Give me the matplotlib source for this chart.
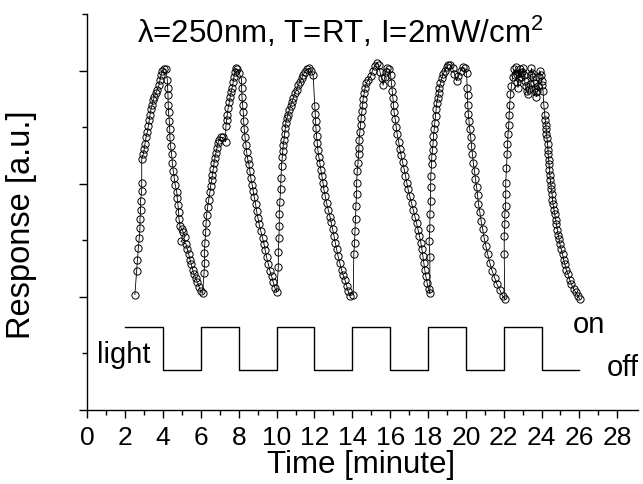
import numpy as np
import matplotlib
matplotlib.use("Agg")
import matplotlib.pyplot as plt

plt.rcParams['font.family'] = ['Liberation Sans', 'DejaVu Sans']
plt.rcParams['mathtext.fontset'] = 'custom'
plt.rcParams['mathtext.rm'] = 'Liberation Sans'
plt.rcParams['mathtext.default'] = 'regular'

# ---------------------------------------------------
# Data (time in minutes, response in a.u.)
# ---------------------------------------------------
c1_t = [2.51, 2.60, 2.64, 2.69, 2.74, 2.78, 2.78, 2.81, 2.81, 2.87, 2.87,
        2.87, 2.95, 3.01, 3.04, 3.10, 3.17, 3.22, 3.27, 3.31, 3.36, 3.43, 3.48, 3.54, 3.61, 3.69, 3.78, 3.84, 3.89, 3.96, 4.05, 4.15,
        4.22, 4.24, 4.26, 4.27, 4.29, 4.33, 4.35, 4.36, 4.40, 4.45, 4.49, 4.54, 4.59, 4.64, 4.72, 4.75, 4.79, 4.82, 4.84, 4.89,
        4.98, 5.07, 5.16, 4.94, 5.21, 5.28, 5.35, 5.42, 5.49, 5.56, 5.63, 5.72, 5.81, 5.90, 5.98, 6.09]
c1_r = [1.02, 1.23, 1.33, 1.43, 1.52, 1.61, 1.69, 1.77, 1.85, 1.94, 2.01,
        2.22, 2.26, 2.31, 2.35, 2.41, 2.46, 2.51, 2.56, 2.61, 2.66, 2.70, 2.74, 2.77, 2.80, 2.83, 2.87, 2.92, 2.96, 3.00, 3.01, 3.01,
        2.92, 2.85, 2.78, 2.70, 2.63, 2.55, 2.48, 2.41, 2.33, 2.26, 2.18, 2.11, 2.05, 1.99, 1.93, 1.87, 1.81, 1.75, 1.69, 1.63,
        1.60, 1.57, 1.53, 1.49, 1.47, 1.42, 1.38, 1.33, 1.29, 1.24, 1.20, 1.17, 1.13, 1.09, 1.05, 1.03]

c2_t = [6.16, 6.20, 6.18, 6.21, 6.25, 6.27, 6.30, 6.35, 6.41, 6.48, 6.51, 6.57, 6.60, 6.65, 6.69, 6.74, 6.79, 6.85, 6.90, 6.97, 7.06, 7.18, 7.30,
        7.32, 7.36, 7.39, 7.44, 7.50, 7.55, 7.60, 7.65, 7.71, 7.74, 7.80, 7.85, 7.89, 8.02, 8.15,
        8.15, 8.17, 8.20, 8.24, 8.26, 8.29, 8.33, 8.38, 8.41, 8.47, 8.54, 8.59, 8.64, 8.71, 8.76, 8.82, 8.89, 8.94, 9.01, 9.08,
        9.17, 9.26, 9.33, 9.40, 9.47, 9.56, 9.65, 9.74, 9.82, 9.91, 10.00]
c2_r = [1.21, 1.30, 1.39, 1.48, 1.57, 1.65, 1.72, 1.79, 1.86, 1.93, 1.98, 2.03, 2.08, 2.13, 2.18, 2.23, 2.27, 2.32, 2.36, 2.39, 2.41, 2.41, 2.37,
        2.51, 2.56, 2.61, 2.67, 2.72, 2.77, 2.81, 2.85, 2.90, 2.94, 2.99, 3.02, 3.01, 2.98, 2.92,
        2.85, 2.77, 2.70, 2.63, 2.55, 2.48, 2.41, 2.34, 2.28, 2.22, 2.17, 2.11, 2.05, 1.99, 1.94, 1.88, 1.82, 1.76, 1.70, 1.64,
        1.58, 1.52, 1.47, 1.41, 1.35, 1.29, 1.23, 1.18, 1.13, 1.08, 1.04]

c3_t = [10.09, 10.09, 10.12, 10.14, 10.14, 10.17, 10.21, 10.23, 10.26, 10.30, 10.32, 10.35, 10.39, 10.42, 10.46, 10.49,
        10.54, 10.60, 10.67, 10.74, 10.81, 10.88, 10.97, 11.06, 11.14, 11.23, 11.32, 11.41, 11.49, 11.58, 11.69, 11.80, 11.93,
        12.02, 12.04, 12.06, 12.08, 12.11, 12.15, 12.18, 12.23, 12.29, 12.34, 12.39, 12.45, 12.50, 12.57, 12.64, 12.73,
        12.82, 12.88, 12.96, 13.03, 13.10, 13.17, 13.25, 13.34, 13.43, 13.52, 13.61, 13.70, 13.78, 13.87]
c3_r = [1.26, 1.40, 1.52, 1.63, 1.73, 1.84, 1.95, 2.05, 2.16, 2.24, 2.29, 2.34, 2.39, 2.44, 2.49, 2.54,
        2.58, 2.61, 2.65, 2.69, 2.72, 2.76, 2.80, 2.83, 2.87, 2.90, 2.93, 2.96, 2.99, 3.01, 3.02, 3.00, 2.96,
        2.69, 2.62, 2.55, 2.49, 2.42, 2.36, 2.30, 2.24, 2.18, 2.12, 2.07, 2.01, 1.95, 1.89, 1.83, 1.77,
        1.71, 1.66, 1.60, 1.54, 1.48, 1.42, 1.36, 1.30, 1.24, 1.19, 1.15, 1.10, 1.05, 1.01]

c4_t = [14.05, 14.08, 14.12, 14.14, 14.17, 14.19, 14.23, 14.23, 14.26, 14.30, 14.33, 14.35, 14.36, 14.40, 14.44, 14.47,
        14.51, 14.54, 14.57, 14.63, 14.68, 14.75, 14.84, 14.97, 15.07, 15.18, 15.28, 15.39, 15.46, 15.55, 15.63, 15.71,
        15.77, 15.86, 15.95, 16.02, 16.07,
        16.11, 16.14, 16.18, 16.21, 16.27, 16.32, 16.37, 16.45, 16.51, 16.58, 16.66, 16.74, 16.81, 16.88, 16.95, 17.04,
        17.13, 17.22, 17.31, 17.40, 17.48, 17.55, 17.62, 17.68, 17.73, 17.78, 17.83, 17.89, 17.96, 18.03, 18.10]
c4_r = [1.02, 1.38, 1.48, 1.58, 1.69, 1.80, 1.91, 2.01, 2.11, 2.18, 2.26, 2.32, 2.39, 2.46, 2.52, 2.58,
        2.64, 2.70, 2.75, 2.80, 2.85, 2.89, 2.92, 2.95, 3.00, 3.04, 3.07, 3.05, 2.99, 2.93, 2.87, 2.94,
        2.99, 3.02, 3.01, 2.96, 2.89,
        2.82, 2.76, 2.70, 2.63, 2.57, 2.50, 2.44, 2.37, 2.31, 2.25, 2.19, 2.13, 2.07, 2.01, 1.95, 1.89,
        1.83, 1.77, 1.71, 1.65, 1.59, 1.54, 1.48, 1.42, 1.36, 1.30, 1.24, 1.18, 1.12, 1.07, 1.03]

c5_t = [18.10, 18.06, 18.10, 18.10, 18.14, 18.14, 18.15, 18.19, 18.20, 18.24, 18.27, 18.29, 18.33, 18.36, 18.40, 18.43,
        18.46, 18.52, 18.56, 18.60, 18.66, 18.73, 18.80, 18.89, 18.98, 19.08, 19.19, 19.30, 19.40, 19.51, 19.61, 19.72,
        19.83, 19.95, 20.04,
        20.07, 20.09, 20.10, 20.13, 20.17, 20.21, 20.26, 20.30, 20.35, 20.40, 20.46, 20.51, 20.57, 20.62, 20.67, 20.74,
        20.81, 20.89, 20.97, 21.06, 21.15, 21.27, 21.39, 21.52, 21.65, 21.80, 21.94]
c5_r = [1.35, 1.49, 1.61, 1.73, 1.85, 1.97, 2.07, 2.17, 2.24, 2.30, 2.36, 2.42, 2.48, 2.54, 2.60, 2.66,
        2.71, 2.76, 2.80, 2.85, 2.89, 2.93, 2.97, 3.00, 3.03, 3.05, 3.05, 3.02, 2.97, 2.91, 2.95, 3.00,
        3.03, 3.02, 2.98,
        2.85, 2.78, 2.70, 2.62, 2.55, 2.48, 2.41, 2.33, 2.26, 2.18, 2.11, 2.04, 1.97, 1.90, 1.82, 1.75,
        1.67, 1.60, 1.52, 1.45, 1.38, 1.30, 1.23, 1.17, 1.11, 1.06, 1.01]

c6_t = [22.06, 22.03, 22.03, 22.06, 22.06, 22.10, 22.11, 22.11, 22.15, 22.18, 22.20, 22.23, 22.27, 22.29, 22.32, 22.36,
        22.41, 22.47, 22.54, 22.60, 22.64, 22.68, 22.72, 22.76, 22.80, 22.85, 22.90, 22.94, 22.99, 23.03, 23.07, 23.11,
        23.16, 23.22, 23.29, 23.33, 23.38, 23.43, 23.47, 23.51, 23.55, 23.60, 23.64, 23.69, 23.73, 23.78, 23.82, 23.87,
        23.91, 23.96, 24.00, 24.04, 24.08, 24.12,
        24.17, 24.20, 24.23, 24.25, 24.26, 24.29, 24.32, 24.34, 24.35, 24.38, 24.40, 24.42, 24.44, 24.47, 24.49, 24.52,
        24.56, 24.58, 24.61, 24.66, 24.70, 24.75, 24.79, 24.84, 24.88, 24.93, 24.97, 25.04, 25.11, 25.17, 25.23, 25.31,
        25.40, 25.49, 25.58, 25.70, 25.81, 25.92, 26.02]
c6_r = [0.98, 1.38, 1.54, 1.64, 1.73, 1.80, 1.91, 2.01, 2.14, 2.26, 2.35, 2.44, 2.52, 2.61, 2.70, 2.79,
        2.86, 2.94, 3.01, 2.96, 3.03, 2.97, 2.90, 2.85, 2.93, 3.01, 2.98, 2.94, 2.99, 3.02, 2.96, 2.91,
        2.86, 2.82, 2.79, 2.84, 2.88, 2.96, 3.02, 2.98, 2.94, 2.89, 2.85, 2.81, 2.77, 2.82, 2.86, 2.94,
        3.00, 2.96, 2.91, 2.87, 2.82, 2.70,
        2.61, 2.56, 2.52, 2.48, 2.44, 2.40, 2.35, 2.30, 2.26, 2.21, 2.17, 2.12, 2.08, 2.03, 1.99, 1.95,
        1.91, 1.86, 1.82, 1.77, 1.73, 1.68, 1.64, 1.59, 1.55, 1.51, 1.47, 1.42, 1.38, 1.33, 1.29, 1.24,
        1.20, 1.15, 1.11, 1.07, 1.04, 1.01, 0.98]

# light on/off switching times (minutes) and state after each switch
light_t = [2, 4, 6, 8, 10, 12, 14, 16, 18, 20, 22, 24, 26]
light_on = [1, 0, 1, 0, 1, 0, 1, 0, 1, 0, 1, 0, 0]
on_level, off_level = 0.73, 0.356

time = np.concatenate([c1_t, c2_t, c3_t, c4_t, c5_t, c6_t])
resp = np.concatenate([c1_r, c2_r, c3_r, c4_r, c5_r, c6_r])
light_y = [on_level if s else off_level for s in light_on]

# ---------------------------------------------------
# Plot
# ---------------------------------------------------
fig = plt.figure(figsize=(6.43, 4.85), dpi=100)
ax = fig.add_axes([87.4 / 643, 74 / 485, (638 - 87.4) / 643, (411 - 15) / 485])

ax.plot(time, resp, '-', color='black', lw=0.6,
        marker='o', ms=5.2, mfc='none', mec='black', mew=0.7)
ax.step(light_t, light_y, where='post', color='black', lw=1.0)

ax.set_xlim(0, 29.1)
ax.set_ylim(0, 3.5)
for s in ['top', 'right']:
    ax.spines[s].set_visible(False)
for s in ['left', 'bottom']:
    ax.spines[s].set_linewidth(1.0)

ax.set_xticks(range(0, 29, 2))
ax.set_xticks(range(1, 29, 2), minor=True)
ax.set_yticks([0, 1, 2, 3])
ax.set_yticks([0.5, 1.5, 2.5, 3.5], minor=True)
ax.set_yticklabels([])
ax.tick_params(which='major', direction='out', length=6, width=1.0, labelsize=19, pad=5)
ax.tick_params(which='minor', direction='out', length=3.5, width=1.0)

ax.text(13.36, 3.25, 'λ=250nm, T=RT, I=2mW/cm$^2$', fontsize=22.5, ha='center', va='baseline')
ax.text(0.5, 0.42, 'light', fontsize=21, ha='left', va='baseline')
ax.text(25.65, 0.76, 'on', fontsize=21, ha='left', va='center')
ax.text(27.45, 0.38, 'off', fontsize=21, ha='left', va='center')

fig.text(361 / 643, 20 / 485, 'Time [minute]', fontsize=22.5, ha='center', va='center')
fig.text(22 / 643, (485 - 225) / 485, 'Response [a.u.]', fontsize=23.5,
         rotation=90, ha='center', va='center')

fig.savefig('out.png', dpi=100)
